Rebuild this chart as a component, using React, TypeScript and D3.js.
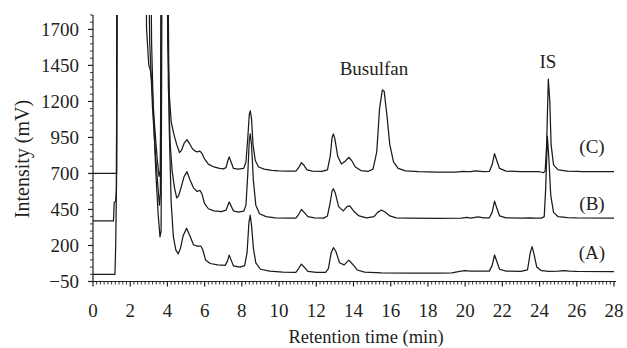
import React from "react";
import * as d3 from "d3";

type Pt = [number, number];

// Retention time (min), intensity (mV)
const traceA: Pt[] = [
  [0, 0], [1.18, 0], [1.22, 200], [1.26, 600], [1.3, 2600], [3.08, 2600], [3.15, 1600], [3.25, 1100],
  [3.38, 700], [3.5, 420], [3.6, 260], [3.66, 300], [3.72, 2600], [4.0, 2600], [4.1, 1000], [4.2, 500],
  [4.32, 260], [4.45, 170], [4.58, 142], [4.7, 180], [4.85, 270], [5.03, 320], [5.2, 270], [5.4, 205],
  [5.6, 195], [5.8, 195], [5.9, 170], [6.05, 100], [6.3, 75], [6.7, 65], [7.1, 62], [7.22, 90],
  [7.32, 133], [7.42, 100], [7.55, 58], [7.9, 50], [8.15, 60], [8.28, 150], [8.38, 360], [8.45, 410],
  [8.52, 340], [8.62, 180], [8.75, 80], [9.0, 35], [9.5, 22], [10.2, 15], [10.9, 14], [11.05, 40],
  [11.2, 70], [11.35, 50], [11.55, 20], [12, 14], [12.5, 14], [12.65, 40], [12.8, 150], [12.92, 185],
  [13.05, 160], [13.25, 80], [13.5, 65], [13.75, 98], [13.95, 70], [14.2, 30], [14.6, 15], [15.5, 10],
  [17, 8], [18.5, 8], [19.3, 10], [19.7, 20], [20.0, 25], [20.3, 22], [20.8, 22], [21.3, 22],
  [21.45, 60], [21.58, 134], [21.7, 90], [21.85, 35], [22.2, 22], [23, 20], [23.35, 30], [23.5, 150],
  [23.6, 192], [23.7, 140], [23.85, 50], [24.1, 25], [24.5, 20], [25, 22], [25.3, 26], [25.6, 22],
  [26, 20], [28, 18],
];

const traceB: Pt[] = [
  [0, 370], [1.1, 370], [1.14, 500], [1.22, 505], [1.26, 600], [1.3, 2600], [2.95, 2600], [3.05, 1600],
  [3.2, 1150], [3.35, 850], [3.48, 620], [3.57, 480], [3.62, 560], [3.68, 2600], [3.98, 2600],
  [4.05, 1300], [4.15, 900], [4.25, 720], [4.38, 600], [4.5, 530], [4.6, 545], [4.75, 610], [4.9, 680],
  [5.05, 712], [5.2, 660], [5.4, 600], [5.6, 575], [5.75, 582], [5.85, 560], [6.0, 490], [6.2, 455],
  [6.5, 440], [6.9, 435], [7.15, 445], [7.25, 480], [7.32, 502], [7.42, 475], [7.55, 440], [7.8, 432],
  [8.1, 438], [8.22, 480], [8.32, 700], [8.4, 930], [8.45, 975], [8.52, 900], [8.62, 650], [8.75, 480],
  [8.95, 420], [9.3, 400], [9.8, 392], [10.5, 390], [10.9, 390], [11.05, 415], [11.2, 450], [11.35, 430],
  [11.55, 400], [11.9, 392], [12.4, 390], [12.6, 405], [12.75, 500], [12.85, 580], [12.92, 594],
  [13.02, 565], [13.2, 470], [13.45, 440], [13.65, 470], [13.8, 475], [14.0, 440], [14.3, 405],
  [14.7, 392], [15.1, 400], [15.3, 430], [15.5, 446], [15.7, 432], [15.95, 405], [16.3, 392], [17, 390],
  [18.5, 388], [19.8, 390], [20.1, 395], [20.3, 390], [20.7, 398], [21.0, 392], [21.3, 392], [21.45, 430],
  [21.58, 508], [21.7, 460], [21.85, 405], [22.2, 392], [23, 390], [23.5, 392], [23.8, 390], [24.1, 390],
  [24.25, 400], [24.33, 600], [24.42, 960], [24.5, 800], [24.6, 550], [24.75, 430], [25, 400],
  [25.5, 394], [26, 392], [28, 390],
];

const traceC: Pt[] = [
  [0, 700], [1.22, 700], [1.27, 700], [1.3, 2600], [2.8, 2600], [2.88, 1700], [3.0, 1450], [3.08, 1420],
  [3.15, 1350], [3.3, 1050], [3.45, 800], [3.55, 680], [3.62, 720], [3.68, 2600], [3.95, 2600],
  [4.02, 1600], [4.1, 1250], [4.2, 1060], [4.35, 970], [4.5, 900], [4.65, 845], [4.75, 860], [4.9, 910],
  [5.05, 935], [5.2, 905], [5.35, 870], [5.5, 855], [5.6, 850], [5.75, 855], [5.85, 840], [6.0, 800],
  [6.2, 765], [6.5, 745], [6.8, 735], [7.0, 732], [7.15, 740], [7.25, 790], [7.32, 815], [7.42, 780],
  [7.55, 735], [7.8, 730], [8.1, 735], [8.22, 780], [8.32, 950], [8.4, 1110], [8.45, 1135], [8.52, 1080],
  [8.6, 900], [8.72, 790], [8.9, 745], [9.2, 730], [9.6, 722], [10.0, 718], [10.5, 716], [10.9, 716],
  [11.05, 740], [11.2, 775], [11.35, 755], [11.5, 725], [11.8, 716], [12.3, 714], [12.6, 725],
  [12.75, 820], [12.85, 950], [12.92, 975], [13.0, 940], [13.15, 820], [13.35, 765], [13.55, 785],
  [13.75, 812], [13.9, 790], [14.1, 745], [14.4, 720], [14.8, 715], [15.05, 730], [15.25, 850],
  [15.4, 1150], [15.55, 1280], [15.65, 1270], [15.8, 1100], [15.95, 900], [16.15, 780], [16.4, 735],
  [16.8, 718], [17.5, 712], [18.5, 710], [19.5, 710], [19.9, 714], [20.05, 712], [20.3, 712],
  [20.55, 718], [20.7, 716], [21.0, 712], [21.3, 714], [21.45, 760], [21.58, 838], [21.7, 790],
  [21.85, 735], [22.2, 716], [23, 712], [24.0, 712], [24.2, 705], [24.3, 715], [24.38, 900],
  [24.47, 1355], [24.55, 1200], [24.62, 900], [24.75, 760], [25, 725], [25.5, 716], [26, 714],
  [26.3, 712], [28, 712],
];

const traceLabels = ["(A)", "(B)", "(C)"];
const labelValues = [155, 495, 885];
const peakLabels = [
  { text: "Busulfan", t: 15.1, v: 1430 },
  { text: "IS", t: 24.45, v: 1475 },
];
const yMajorTicks = [-50, 200, 450, 700, 950, 1200, 1450, 1700];
const xMajorTicks = [0, 2, 4, 6, 8, 10, 12, 14, 16, 18, 20, 22, 24, 26, 28];

const W = 627;
const H = 348;
const FONT = "'Liberation Serif', 'Times New Roman', serif";
const INK = "#231f20";

export default function App() {
  const x = d3.scaleLinear().domain([0, 28]).range([93, 614]);
  const y = d3.scaleLinear().domain([-50, 1800]).range([281.5, 15]);
  const line = d3
    .line<Pt>()
    .x((d) => x(d[0]))
    .y((d) => y(d[1]));

  const yMinor = d3.range(-50, 1801, 50).filter((v) => !yMajorTicks.includes(v));
  const xMinor = d3.range(0, 28.01, 0.2).filter((v) => Math.abs(v / 2 - Math.round(v / 2)) > 1e-6);

  const x0 = x(0);
  const yb = y(-50);

  return (
    <svg
      width={W}
      height={H}
      style={{ position: "absolute", left: 0, top: 0, background: "#fff" }}
      fontFamily={FONT}
    >
      <defs>
        <clipPath id="plot">
          <rect x={x0} y={y(1800)} width={x(28) - x0 + 3} height={yb - y(1800)} />
        </clipPath>
      </defs>
      <g clipPath="url(#plot)" fill="none" stroke="#1b1b1b" strokeWidth={1.25} strokeLinejoin="round">
        {[traceA, traceB, traceC].map((tr, i) => (
          <path key={i} d={line(tr) || ""} />
        ))}
      </g>

      {/* axes */}
      <g stroke={INK} strokeWidth={1.2} fill="none">
        <line x1={x0} x2={x0} y1={y(1800)} y2={yb} />
        <line x1={x0} x2={616} y1={yb} y2={yb} />
        {yMajorTicks.map((v) => (
          <line key={"ym" + v} x1={x0 - 5} x2={x0} y1={y(v)} y2={y(v)} />
        ))}
        {yMinor.map((v) => (
          <line key={"yn" + v} x1={x0 - 3} x2={x0} y1={y(v)} y2={y(v)} strokeWidth={0.9} />
        ))}
        {xMajorTicks.map((v) => (
          <line key={"xm" + v} x1={x(v)} x2={x(v)} y1={yb} y2={yb + 5} />
        ))}
        {xMinor.map((v) => (
          <line key={"xn" + v.toFixed(1)} x1={x(v)} x2={x(v)} y1={yb} y2={yb + 3} strokeWidth={0.9} />
        ))}
      </g>

      <g fill={INK} fontSize={19}>
        {yMajorTicks.map((v) => (
          <text key={"yl" + v} x={79} y={y(v)} dy="0.35em" textAnchor="end">
            {v < 0 ? "\u2212" + Math.abs(v) : String(v)}
          </text>
        ))}
        {xMajorTicks.map((v) => (
          <text key={"xl" + v} x={x(v)} y={316.5} textAnchor="middle">
            {String(v)}
          </text>
        ))}
        <text x={366} y={343} textAnchor="middle" fontSize={18.5}>
          Retention time (min)
        </text>
        <text transform={`translate(29,159) rotate(-90)`} textAnchor="middle" fontSize={20}>
          Intensity (mV)
        </text>
        {traceLabels.map((t, i) => (
          <text key={t} x={592} y={y(labelValues[i])} dy="0.35em" textAnchor="middle">
            {t}
          </text>
        ))}
        {peakLabels.map((p) => (
          <text key={p.text} x={x(p.t)} y={y(p.v)} dy="0.35em" textAnchor="middle">
            {p.text}
          </text>
        ))}
      </g>
    </svg>
  );
}
